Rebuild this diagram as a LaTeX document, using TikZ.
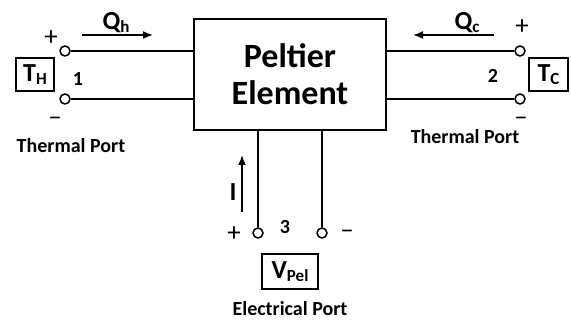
\documentclass[tikz,border=0pt]{standalone}
\usepackage{fontspec}
\setmainfont{Carlito}
\usetikzlibrary{arrows.meta,positioning}
\newcommand{\lsub}[1]{\raisebox{-2.5pt}{\fontsize{17}{17}\selectfont #1}}

\begin{document}
\begin{tikzpicture}[x=1pt,y=-1pt,>={Latex[length=10pt,width=8pt]},every node/.style={font=\bfseries\fontsize{26}{26}\selectfont},wire/.style={line width=1.7pt},flow/.style={->,line width=1.7pt},term/.style={circle,draw,line width=1.5pt,fill=white,minimum size=10pt,inner sep=0pt},src/.style={draw,line width=1.5pt,inner sep=0pt},sign/.style={font=\fontsize{27}{27}\selectfont},lbl/.style={font=\bfseries\fontsize{20}{20}\selectfont,inner sep=1pt}]
\useasboundingbox (0,0) rectangle (571,320);
\node[draw,line width=1.7pt,minimum width=192pt,minimum height=111pt,align=center,font=\bfseries\fontsize{34}{37}\selectfont] (pel) at (290,74.5) {Peltier\\Element};
% thermal port 1
\node[term] (a1) at (65,51) {};\node[term] (b1) at (65,99) {};
\draw[wire] (a1)--(a1-|pel.west);\draw[wire] (b1)--(b1-|pel.west);
\node[src,minimum width=38pt,minimum height=33pt] (th) at (35,74.5) {T\lsub{H}};
\node[lbl] (n1) at (78,79) {1};\node[sign] (p1) at (51,38) {+};\node[sign] (m1) at (55,121) {--};
\coordinate (qh1) at (82,35);\coordinate (qh2) at (153,35);\draw[flow] (qh1)--(qh2);\node (qh) at (116,23) {Q\lsub{h}};
\node[lbl] (tp1) at (71,146) {Thermal Port};
% thermal port 2
\node[term] (a2) at (520,51) {};\node[term] (b2) at (520,99) {};
\draw[wire] (a2)--(a2-|pel.east);\draw[wire] (b2)--(b2-|pel.east);
\node[src,minimum width=39pt,minimum height=33pt] (tc) at (548.5,74.5) {T\lsub{C}};
\node[lbl] (n2) at (493,76) {2};\node[sign] (p2) at (522,27) {+};\node[sign] (m2) at (521,121) {--};
\coordinate (qc1) at (494,35);\coordinate (qc2) at (413,35);\draw[flow] (qc1)--(qc2);\node (qc) at (467,23) {Q\lsub{c}};
\node[lbl] (tp2) at (465,137) {Thermal Port};
% electrical port 3
\node[term] (a3) at (258,233) {};\node[term] (b3) at (322,233) {};
\draw[wire] (a3)--(a3|-pel.south);\draw[wire] (b3)--(b3|-pel.south);
\node[src,minimum width=56pt,minimum height=35pt] (vp) at (290,271.5) {V\lsub{Pel}};
\node[lbl] (n3) at (285,227) {3};\node[sign] (p3) at (234,234) {+};\node[sign] (m3) at (347,234) {--};
\coordinate (i1) at (242,212);\coordinate (i2) at (242,155);\draw[flow] (i1)--(i2);\node (il) at (233,192) {I};
\node[lbl] (ep) at (290,308.5) {Electrical Port};
\end{tikzpicture}
\end{document}
